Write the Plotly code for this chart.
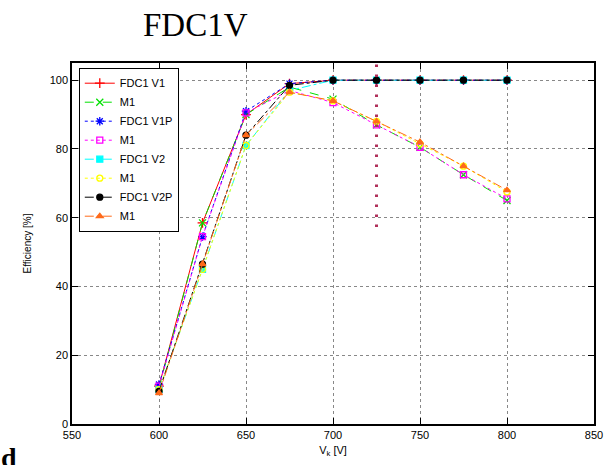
import plotly.graph_objects as go

vk = [600, 625, 650, 675, 700, 725, 750, 775, 800]
names = ["FDC1 V1", "M1", "FDC1 V1P", "M1", "FDC1 V2", "M1", "FDC1 V2P", "M1"]
fdc1_v1 = [11, 58.5, 90, 99, 100, 100, 100, 100, 100]
m1_a = [10.5, 58.5, 90, 98, 94.5, 87, 80.5, 72.5, 65]
fdc1_v1p = [11.5, 54.5, 91, 99, 100, 100, 100, 100, 100]
m1_b = [11, 54.5, 90.5, 97, 93.5, 87, 80.5, 72.5, 65.5]
fdc1_v2 = [10, 45, 81, 97, 100, 100, 100, 100, 100]
m1_c = [10, 45, 81, 96.5, 94, 88, 81.5, 75, 67.5]
fdc1_v2p = [9.5, 46.5, 84, 98.5, 100, 100, 100, 100, 100]
m1_d = [9, 46.5, 84, 96.5, 94, 88, 82, 75, 68]
series = [fdc1_v1, m1_a, fdc1_v1p, m1_b, fdc1_v2, m1_c, fdc1_v2p, m1_d]

marker_x = 725
marker_y = [57.3, 106.6]

colors = ["#ff0000", "#00e000", "#0000ff", "#ff00ff", "#00ffff", "#ffff00", "#000000", "#ff6a1a"]
dashes = ["solid", "dash", "dot", "dot", "dashdot", "dot", "dashdot", "dashdot"]
symbols = ["cross-thin-open", "x-thin-open", "asterisk-open", "square-open",
           "square", "circle-open", "circle", "triangle-up"]

fig = go.Figure()
for nm, ys, c, d, s in zip(names, series, colors, dashes, symbols):
    thin = s.endswith("-open") and ("thin" in s or "asterisk" in s)
    fig.add_trace(go.Scatter(
        x=vk, y=ys, name=nm, mode="lines+markers",
        line=dict(color=c, width=1, dash=d),
        marker=dict(symbol=s, size=7 if thin else 6, color=c,
                    line=dict(color=c, width=1.3)),
    ))

fig.add_shape(type="line", xref="x", yref="y", x0=marker_x, x1=marker_x,
              y0=marker_y[0], y1=marker_y[1],
              line=dict(color="#b0305a", width=3, dash="2.5px,7.5px"))

axis_common = dict(
    showline=True, linecolor="black", linewidth=1.5, mirror="allticks",
    ticks="inside", ticklen=6, tickcolor="black",
    showgrid=True, gridcolor="#888888", griddash="dot", gridwidth=1,
    zeroline=False, tickfont=dict(family="Liberation Sans", size=11, color="black"),
)
fig.update_xaxes(range=[550, 850], tickvals=[550, 600, 650, 700, 750, 800, 850],
                 title=dict(text="V<sub>k</sub> [V]", font=dict(family="Liberation Sans", size=11), standoff=6),
                 **axis_common)
fig.update_yaxes(range=[0, 105], tickvals=[0, 20, 40, 60, 80, 100],
                 title=dict(text="Efficiency [%]", font=dict(family="Liberation Sans", size=10), standoff=16),
                 **axis_common)

fig.update_layout(
    width=613, height=465,
    margin=dict(l=72, r=10, t=63, b=38),
    paper_bgcolor="white", plot_bgcolor="white",
    font=dict(family="Liberation Sans", color="black"),
    showlegend=True,
    legend=dict(x=0.013, y=0.987, xanchor="left", yanchor="top",
                bgcolor="white", bordercolor="black", borderwidth=1,
                font=dict(family="Liberation Sans", size=11), tracegroupgap=0,
                itemwidth=30),
    annotations=[
        dict(text="FDC1V", xref="paper", yref="paper", x=0.237, y=1.05,
             xanchor="center", yanchor="bottom", showarrow=False,
             font=dict(family="Liberation Serif", size=33, color="black")),
        dict(text="<b>d</b>", xref="paper", yref="paper", x=-0.14, y=-0.045,
             xanchor="left", yanchor="top", showarrow=False,
             font=dict(family="Liberation Serif", size=28, color="black")),
    ],
)

fig.write_html("out.html")
